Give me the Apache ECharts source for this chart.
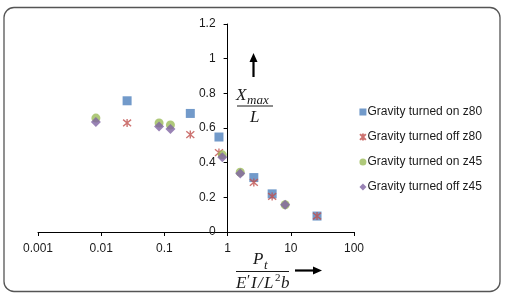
<!DOCTYPE html>
<html><head><meta charset="utf-8">
<script src="https://cdn.jsdelivr.net/npm/echarts@6/dist/echarts.min.js"></script>
<style>html,body{margin:0;padding:0;background:#fff}#c{width:506px;height:299px}</style>
</head><body><div id="c"></div>
<script>
const xTicks = [0.001, 0.01, 0.1, 1, 10, 100];
const yTicks = [0, 0.2, 0.4, 0.6, 0.8, 1, 1.2];
const seriesNames = ['Gravity turned on z80', 'Gravity turned off z80', 'Gravity turned on z45', 'Gravity turned off z45'];
const onZ80 = [[0.0257, 0.757], [0.257, 0.684], [0.73, 0.548], [2.6, 0.314], [5.07, 0.22], [26, 0.092]];
const offZ80 = [[0.0257, 0.629], [0.257, 0.562], [0.73, 0.458], [2.6, 0.286], [5.07, 0.205], [26, 0.092]];
const onZ45 = [[0.00824, 0.657], [0.0824, 0.629], [0.1245, 0.617], [0.824, 0.445], [1.585, 0.345], [8.13, 0.157]];
const offZ45 = [[0.00824, 0.634], [0.0824, 0.608], [0.1245, 0.594], [0.824, 0.431], [1.585, 0.337], [8.13, 0.157]];

const chart = echarts.init(document.getElementById('c'), null, {renderer: 'canvas'});
const gridLeft = 38, gridRight = 152;
const plotW = 506 - gridLeft - gridRight;
const yOffset = -plotW * 3 / 5;
const txt = '#1a1a1a';
const starPath = 'path://M0 0L10 10M10 0L0 10M5 -1L5 11';
const mathFont = 'Liberation Serif';
const mt = (x, y, t, size, italic) => ({type: 'text', x: x, y: y,
  style: {text: t, font: (italic ? 'italic ' : '') + size + 'px ' + mathFont, fill: txt}});

chart.setOption({
  animation: false,
  grid: {left: gridLeft, right: gridRight, top: 24, bottom: 67},
  xAxis: {
    type: 'log', logBase: 10, min: xTicks[0], max: xTicks[xTicks.length - 1],
    axisLine: {onZero: false, lineStyle: {color: '#000', width: 1}},
    axisTick: {show: true, length: 4, lineStyle: {color: '#000'}},
    minorTick: {show: false},
    splitLine: {show: false},
    axisLabel: {color: txt, fontFamily: 'Liberation Sans', fontSize: 12, margin: 11,
      formatter: v => String(xTicks.find(t => Math.abs(Math.log10(t) - Math.log10(v)) < 1e-6) ?? v)}
  },
  yAxis: {
    type: 'value', min: yTicks[0], max: yTicks[yTicks.length - 1], interval: 0.2,
    offset: yOffset,
    axisLine: {show: true, onZero: false, lineStyle: {color: '#000', width: 1}},
    axisTick: {show: true, length: 4, lineStyle: {color: '#000'}},
    splitLine: {show: false},
    axisLabel: {color: txt, fontFamily: 'Liberation Sans', fontSize: 12, margin: 12,
      formatter: v => String(Math.round(v * 10) / 10)}
  },
  legend: {
    orient: 'vertical', left: 354, top: 101, itemWidth: 7, itemHeight: 7, itemGap: 13,
    textStyle: {color: txt, fontFamily: 'Liberation Sans', fontSize: 12, padding: [0, 0, 0, -4]},
    data: seriesNames
  },
  series: [
    {name: seriesNames[0], type: 'scatter', data: onZ80, symbol: 'rect', symbolSize: 9,
      itemStyle: {color: '#4F81BD'}},
    {name: seriesNames[1], type: 'scatter', data: offZ80, symbol: starPath, symbolSize: 8,
      itemStyle: {color: 'rgba(0,0,0,0)', borderColor: '#C0504D', borderWidth: 1.4}},
    {name: seriesNames[2], type: 'scatter', data: onZ45, symbol: 'circle', symbolSize: 9,
      itemStyle: {color: '#9BBB59'}},
    {name: seriesNames[3], type: 'scatter', data: offZ45, symbol: 'diamond', symbolSize: 10,
      itemStyle: {color: '#8064A2'}}
  ],
  graphic: [
    {type: 'rect', shape: {x: 4, y: 7.5, width: 496, height: 284, r: 10}, silent: true,
      style: {fill: 'none', stroke: '#555', lineWidth: 1.3}},
    // y label fraction
    mt(236, 87, 'X', 17, true),
    mt(247, 94, 'max', 13, true),
    {type: 'line', shape: {x1: 237, y1: 106, x2: 273, y2: 106}, style: {stroke: txt, lineWidth: 1}},
    mt(250, 109, 'L', 17, true),
    // up arrow
    {type: 'line', shape: {x1: 253.5, y1: 77, x2: 253.5, y2: 60}, style: {stroke: '#000', lineWidth: 2.2}},
    {type: 'polygon', shape: {points: [[253.5, 53], [249.5, 62], [257.5, 62]]}, style: {fill: '#000'}},
    // x label fraction
    mt(253, 251, 'P', 17, true),
    mt(264, 259, 't', 13, true),
    {type: 'line', shape: {x1: 236, y1: 271.5, x2: 289, y2: 271.5}, style: {stroke: txt, lineWidth: 1}},
    mt(236, 275, 'E', 17, true),
    mt(247, 274, '\u2032', 15, false),
    mt(251, 275, 'I', 17, true),
    mt(258, 275, '/', 17, true),
    mt(264, 275, 'L', 17, true),
    mt(275, 273, '2', 11, false),
    mt(281, 275, 'b', 17, true),
    // right arrow
    {type: 'line', shape: {x1: 295, y1: 270.5, x2: 314, y2: 270.5}, style: {stroke: '#000', lineWidth: 2.2}},
    {type: 'polygon', shape: {points: [[322, 270.5], [313, 266.5], [313, 274.5]]}, style: {fill: '#000'}}
  ]
});
</script></body></html>
